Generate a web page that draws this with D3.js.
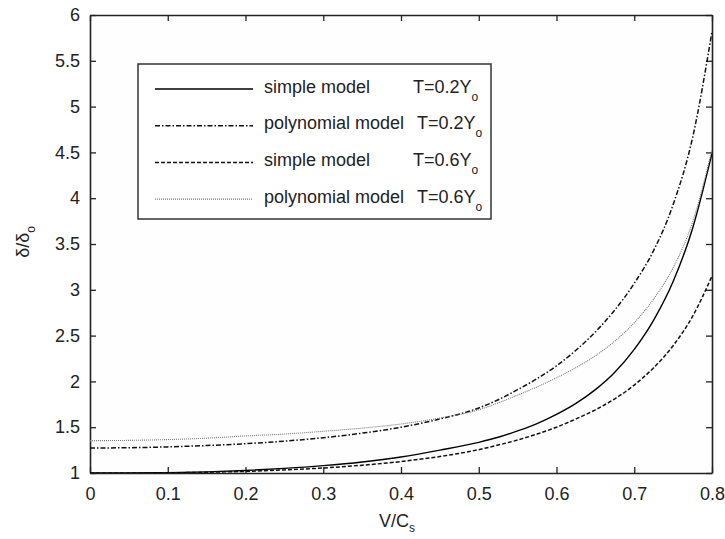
<!DOCTYPE html>
<html>
<head>
<meta charset="utf-8">
<script src="https://cdn.jsdelivr.net/npm/d3@7/dist/d3.min.js"></script>
<style>
  html, body { margin: 0; padding: 0; background: #ffffff; }
  svg { display: block; font-family: "Liberation Sans", Arial, Helvetica, sans-serif; }
</style>
</head>
<body>
<svg id="chart" width="725" height="539"></svg>
<script>
// Normalised speed V/Cs at which each curve is sampled
const speedRatio = [0, 0.05, 0.1, 0.15, 0.2, 0.25, 0.3, 0.35, 0.4, 0.45,
                    0.5, 0.525, 0.55, 0.575, 0.6, 0.625, 0.65, 0.675, 0.7, 0.725, 0.75, 0.775, 0.8];

// δ/δo for each model and thickness
const simpleT02 = [1.0, 1.0, 1.004, 1.012, 1.028, 1.05, 1.08, 1.12, 1.175, 1.25,
                   1.335, 1.39, 1.46, 1.54, 1.64, 1.76, 1.91, 2.10, 2.35, 2.67, 3.09, 3.67, 4.49];
const polyT02   = [1.273, 1.276, 1.285, 1.30, 1.32, 1.348, 1.385, 1.435, 1.50, 1.59,
                   1.71, 1.80, 1.91, 2.03, 2.17, 2.34, 2.54, 2.78, 3.07, 3.43, 3.93, 4.66, 5.82];
const simpleT06 = [1.0, 1.0, 1.002, 1.008, 1.018, 1.034, 1.055, 1.085, 1.125, 1.18,
                   1.255, 1.305, 1.36, 1.425, 1.50, 1.59, 1.69, 1.81, 1.96, 2.15, 2.39, 2.71, 3.15];
const polyT06   = [1.353, 1.356, 1.365, 1.38, 1.405, 1.425, 1.455, 1.49, 1.535, 1.60,
                   1.69, 1.765, 1.85, 1.94, 2.04, 2.15, 2.28, 2.44, 2.64, 2.90, 3.24, 3.74, 4.53];

// Axis ticks
const xTicks = [0, 0.1, 0.2, 0.3, 0.4, 0.5, 0.6, 0.7, 0.8];
const yTicks = [1, 1.5, 2, 2.5, 3, 3.5, 4, 4.5, 5, 5.5, 6];

// Legend entries: model name, thickness label
const legendNames = ["simple model", "polynomial model", "simple model", "polynomial model"];
const legendThickness = ["T=0.2Y", "T=0.2Y", "T=0.6Y", "T=0.6Y"];

const series = [simpleT02, polyT02, simpleT06, polyT06];
const styles = [
  { stroke: "#000", width: 1.4, dash: null },
  { stroke: "#111", width: 1.5, dash: "5,2,1.5,2" },
  { stroke: "#111", width: 1.5, dash: "4,2" },
  { stroke: "#777", width: 1.1, dash: "1,1" }
];

const svg = d3.select("#chart");
const plotL = 90, plotR = 712, plotT = 15, plotB = 473;

const x = d3.scaleLinear().domain([0, 0.8]).range([plotL, plotR]);
const y = d3.scaleLinear().domain([1, 6]).range([plotB, plotT]);

// plot background
svg.append("rect").attr("x", plotL).attr("y", plotT)
  .attr("width", plotR - plotL).attr("height", plotB - plotT).attr("fill", "#fefefe");

const tickLen = 6;
const fmt = d => String(d);

function styleAxis(g) {
  g.selectAll("path.domain").attr("stroke", "#222").attr("stroke-width", 1.6);
  g.selectAll(".tick line").attr("stroke", "#222").attr("stroke-width", 1.3);
  g.selectAll(".tick text").attr("fill", "#222").style("font-size", "18px")
    .style("font-family", "'Liberation Sans', Arial, sans-serif");
}

// bottom axis with labels
svg.append("g").attr("transform", `translate(0,${plotB})`)
  .call(d3.axisBottom(x).tickValues(xTicks).tickFormat(fmt).tickSizeInner(-tickLen).tickSizeOuter(0).tickPadding(14))
  .call(styleAxis);
// top axis (ticks only)
svg.append("g").attr("transform", `translate(0,${plotT})`)
  .call(d3.axisTop(x).tickValues(xTicks).tickFormat("").tickSizeInner(-tickLen).tickSizeOuter(0))
  .call(styleAxis);
// left axis with labels
svg.append("g").attr("transform", `translate(${plotL},0)`)
  .call(d3.axisLeft(y).tickValues(yTicks).tickFormat(fmt).tickSizeInner(-tickLen).tickSizeOuter(0).tickPadding(10))
  .call(styleAxis);
// right axis (ticks only)
svg.append("g").attr("transform", `translate(${plotR},0)`)
  .call(d3.axisRight(y).tickValues(yTicks).tickFormat("").tickSizeInner(-tickLen).tickSizeOuter(0))
  .call(styleAxis);

// curves
const line = d3.line().x((d, i) => x(speedRatio[i])).y(d => y(d)).curve(d3.curveMonotoneX);
svg.append("clipPath").attr("id", "plotClip")
  .append("rect").attr("x", plotL).attr("y", plotT).attr("width", plotR - plotL).attr("height", plotB - plotT);

const curves = svg.append("g").attr("clip-path", "url(#plotClip)");
series.forEach((s, k) => {
  curves.append("path").datum(s)
    .attr("d", line)
    .attr("fill", "none")
    .attr("stroke", styles[k].stroke)
    .attr("stroke-width", styles[k].width)
    .attr("stroke-dasharray", styles[k].dash);
});

// legend
const lg = { x0: 138, y0: 64, x1: 491, y1: 219 };
svg.append("rect").attr("x", lg.x0).attr("y", lg.y0)
  .attr("width", lg.x1 - lg.x0).attr("height", lg.y1 - lg.y0)
  .attr("fill", "#fff").attr("stroke", "#333").attr("stroke-width", 1.5);

const rowY = [89, 125.7, 162.4, 199.1];
const thickX = [413, 417, 413, 417];
legendNames.forEach((name, k) => {
  const ly = rowY[k];
  svg.append("line").attr("x1", 155).attr("x2", 253).attr("y1", ly).attr("y2", ly)
    .attr("stroke", styles[k].stroke).attr("stroke-width", styles[k].width)
    .attr("stroke-dasharray", styles[k].dash);
  svg.append("text").attr("x", 264).attr("y", ly + 3.5)
    .style("font-size", "18px").attr("fill", "#222").text(name);
  const t = svg.append("text").attr("x", thickX[k]).attr("y", ly + 3.5)
    .style("font-size", "18px").attr("fill", "#222");
  t.append("tspan").text(legendThickness[k]);
  t.append("tspan").attr("dy", 8).style("font-size", "12px").text("o");
});

// axis titles
const xt = svg.append("text").attr("x", 397).attr("y", 527)
  .attr("text-anchor", "middle").style("font-size", "18px").attr("fill", "#222");
xt.append("tspan").text("V/C");
xt.append("tspan").attr("dy", 5).style("font-size", "12px").text("s");

const yt = svg.append("text").attr("transform", "translate(29,242) rotate(-90)")
  .attr("text-anchor", "middle").style("font-size", "18px").attr("fill", "#222");
yt.append("tspan").text("δ/δ");
yt.append("tspan").attr("dy", 6).style("font-size", "12px").text("o");
</script>
</body>
</html>
